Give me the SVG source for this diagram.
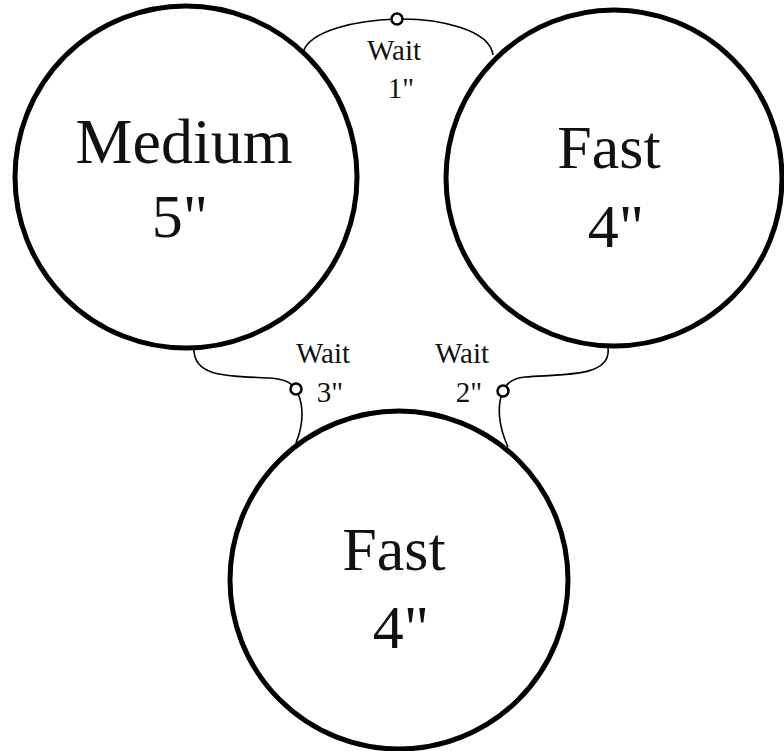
<svg xmlns="http://www.w3.org/2000/svg" width="784" height="751" viewBox="0 0 784 751">
  <style>
    .node circle { fill: #ffffff; stroke: #000000; stroke-width: 5; }
    .big { font-family: "Liberation Serif", "DejaVu Serif", serif; font-size: 62px; fill: #111111; text-anchor: middle; }
    .small { font-family: "Liberation Serif", "DejaVu Serif", serif; font-size: 29px; fill: #111111; text-anchor: middle; }
    .link { fill: none; stroke: #000000; stroke-width: 1.6; }
    .knot { fill: #ffffff; stroke: #000000; stroke-width: 2.5; }
  </style>

  <!-- waiting links between stations -->
  <g id="connectors">
    <path class="link" d="M303,53 C308,30 360,20 396,19 C440,18 490,30 493,55"/>
    <circle class="knot" cx="397" cy="19" r="5.5"/>

    <path class="link" d="M194,347 C192,378 230,376 270,378 C285,379 292,383 295,389 C302,398 306,418 296,443"/>
    <circle class="knot" cx="296" cy="389" r="5.5"/>

    <path class="link" d="M608,348 C612,378 560,374 525,377 C512,378 506,384 503,391 C497,405 498,425 508,447"/>
    <circle class="knot" cx="503" cy="391" r="5.5"/>
  </g>

  <g id="medium" class="node">
    <circle cx="186" cy="177" r="171"/>
    <text class="big" x="184" y="163" style="font-size:64px">Medium</text>
    <text class="big" x="180" y="237">5"</text>
  </g>

  <g id="fast-right" class="node">
    <circle cx="614" cy="178" r="168"/>
    <text class="big" x="609" y="168">Fast</text>
    <text class="big" x="616" y="247">4"</text>
  </g>

  <g id="fast-bottom" class="node">
    <circle cx="399" cy="580" r="169"/>
    <text class="big" x="394" y="570">Fast</text>
    <text class="big" x="401" y="648">4"</text>
  </g>

  <g id="labels">
    <text class="small" x="394" y="60">Wait</text>
    <text class="small" x="401" y="98">1"</text>
    <text class="small" x="323" y="363">Wait</text>
    <text class="small" x="330" y="402">3"</text>
    <text class="small" x="462" y="363">Wait</text>
    <text class="small" x="469" y="402">2"</text>
  </g>
</svg>
